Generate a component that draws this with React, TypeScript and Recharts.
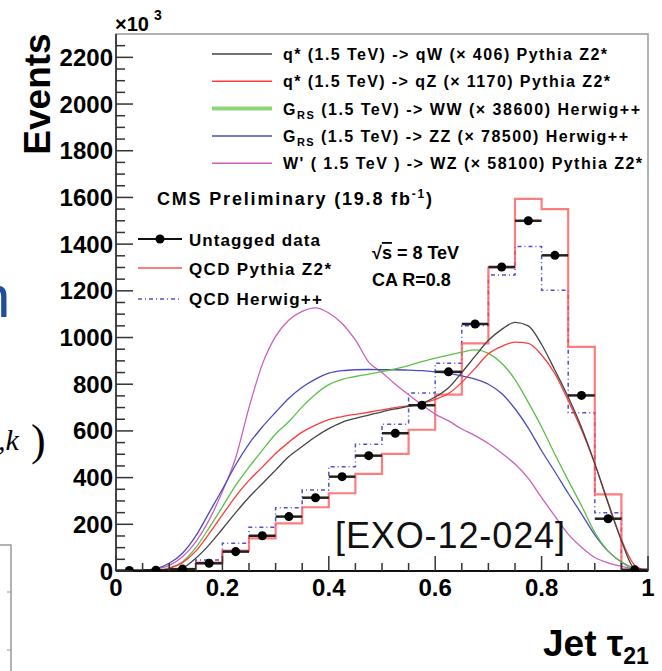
import React from "react";
import {
	ComposedChart,
	Line,
	Scatter,
	ErrorBar,
	XAxis,
	YAxis,
	ReferenceArea,
} from "recharts";

const FONT = '"Liberation Sans", Arial, Helvetica, sans-serif';

// histogram bins of jet tau21 (width 0.05)
const binEdges = [0, 0.05, 0.1, 0.15, 0.2, 0.25, 0.3, 0.35, 0.4, 0.45, 0.5, 0.55, 0.6, 0.65, 0.7, 0.75, 0.8, 0.85, 0.9, 0.95, 1];
const binCenters = [0.025, 0.075, 0.125, 0.175, 0.225, 0.275, 0.325, 0.375, 0.425, 0.475, 0.525, 0.575, 0.625, 0.675, 0.725, 0.775, 0.825, 0.875, 0.925, 0.975];

// events, x10^3
const untaggedData = [2, 3, 8, 33, 83, 151, 233, 314, 404, 494, 590, 710, 853, 1058, 1302, 1500, 1352, 752, 224, 5];
const qcdPythia = [0, 2, 8, 36, 87, 140, 204, 273, 333, 416, 502, 605, 755, 975, 1300, 1594, 1550, 960, 328, 5];
const qcdHerwig = [0, 3, 10, 47, 119, 187, 271, 347, 447, 543, 629, 762, 890, 1050, 1268, 1390, 1202, 678, 250, 3];

// signal shapes (scaled), sampled every 0.025
const curveX = [0, 0.025, 0.05, 0.075, 0.1, 0.125, 0.15, 0.175, 0.2, 0.225, 0.25, 0.275, 0.3, 0.325, 0.35, 0.375, 0.4, 0.425, 0.45, 0.475, 0.5, 0.525, 0.55, 0.575, 0.6, 0.625, 0.65, 0.675, 0.7, 0.725, 0.75, 0.775, 0.8, 0.825, 0.85, 0.875, 0.9, 0.925, 0.95, 0.975, 1];
const qstarQW = [0, 0, 0, 1, 5, 14, 55, 112, 180, 250, 316, 374, 432, 490, 533, 575, 610, 637, 654, 668, 682, 694, 705, 718, 745, 785, 850, 920, 988, 1035, 1065, 1050, 970, 860, 745, 615, 460, 290, 130, 10, 0];
const qstarQZ = [0, 0, 1, 2, 11, 36, 85, 160, 240, 320, 388, 445, 503, 552, 595, 625, 648, 661, 671, 680, 690, 700, 708, 718, 735, 760, 808, 868, 930, 962, 980, 975, 925, 845, 730, 605, 460, 295, 135, 25, 0];
const grsWW = [0, 0, 1, 3, 13, 40, 100, 185, 275, 367, 445, 517, 587, 640, 703, 757, 798, 821, 833, 843, 854, 866, 880, 897, 912, 925, 937, 947, 932, 890, 820, 722, 617, 500, 388, 280, 165, 85, 38, 10, 0];
const grsZZ = [0, 0, 3, 10, 33, 76, 150, 250, 350, 455, 545, 617, 680, 740, 787, 822, 847, 858, 862, 863, 862, 862, 860, 858, 853, 846, 836, 822, 800, 760, 695, 612, 515, 425, 333, 245, 155, 85, 38, 10, 0];
const wprimeWZ = [0, 0, 1, 8, 24, 61, 125, 218, 340, 485, 700, 885, 1005, 1075, 1112, 1127, 1105, 1060, 990, 895, 850, 800, 755, 712, 672, 643, 608, 580, 546, 505, 458, 397, 314, 235, 158, 102, 58, 35, 20, 8, 0];

const yTicks = [0, 50, 100, 150, 200, 250, 300, 350, 400, 450, 500, 550, 600, 650, 700, 750, 800, 850, 900, 950, 1000, 1050, 1100, 1150, 1200, 1250, 1300, 1350, 1400, 1450, 1500, 1550, 1600, 1650, 1700, 1750, 1800, 1850, 1900, 1950, 2000, 2050, 2100, 2150, 2200, 2250];
const xTicks = binEdges;

const signalLegend = [
	{ head: "q* (1.5 TeV) -> qW (\u00d7 406) Pythia Z2*", sub: "", tail: "", color: "#444444", w: 1.5, len: 324 },
	{ head: "q* (1.5 TeV) -> qZ (\u00d7 1170) Pythia Z2*", sub: "", tail: "", color: "#ff3b3b", w: 1.5, len: 327 },
	{ head: "G", sub: "RS", tail: " (1.5 TeV) -> WW (\u00d7 38600) Herwig++", color: "#8fd67a", w: 4, len: 357 },
	{ head: "G", sub: "RS", tail: " (1.5 TeV) -> ZZ (\u00d7 78500) Herwig++", color: "#4b4bbb", w: 1.5, len: 345 },
	{ head: "W' ( 1.5 TeV ) -> WZ (\u00d7 58100) Pythia Z2*", sub: "", tail: "", color: "#cc5fc0", w: 1.5, len: 359 },
];

const histRows = (vals: number[]) =>
	binEdges.map((x, i) => ({ x, v: vals[Math.min(i, vals.length - 1)] }));
const pythiaRows = histRows(qcdPythia);
const herwigRows = histRows(qcdHerwig);
const pointRows = binCenters.map((x, i) => ({ x, y: untaggedData[i], ex: 0.025 }));
const curveRows = curveX.map((x, i) => ({
	x,
	qW: qstarQW[i],
	qZ: qstarQZ[i],
	ww: grsWW[i],
	zz: grsZZ[i],
	wz: wprimeWZ[i],
}));

const YTick = (props: any) => {
	const { x, y, payload } = props;
	const v = payload.value;
	const major = v % 200 === 0;
	return (
		<g>
			<line x1={x} x2={x + (major ? 17 : 9)} y1={y} y2={y} stroke="#333" strokeWidth={1.5} />
			{major ? (
				<text x={x - 3} y={y + 8.5} textAnchor="end" fontSize={24} fontWeight="bold" fontFamily={FONT} fill="#000">
					{v}
				</text>
			) : null}
		</g>
	);
};

const XTick = (props: any) => {
	const { x, y, payload } = props;
	const v = payload.value;
	const major = Math.round(v * 100) % 20 === 0;
	const label = v === 0 ? "0" : v === 1 ? "1" : v.toFixed(1);
	return (
		<g>
			<line x1={x} x2={x} y1={y} y2={y - (major ? 15 : 8)} stroke="#333" strokeWidth={1.5} />
			{major ? (
				<text x={x} y={y + 25} textAnchor="middle" fontSize={24} fontWeight="bold" fontFamily={FONT} fill="#000">
					{label}
				</text>
			) : null}
		</g>
	);
};

const Overlay = () => (
	<svg width={662} height={671} style={{ position: "absolute", left: 0, top: 0, pointerEvents: "none" }}>
		{/* axis titles */}
		<text x={115} y={31} fontSize={20} fontWeight="bold" fontFamily={FONT}>
			{"\u00d710"}
		</text>
		<text x={154} y={20} fontSize={14} fontWeight="bold" fontFamily={FONT}>
			3
		</text>
		<text transform="translate(50,94) rotate(-90)" textAnchor="middle" fontSize={37} fontWeight="bold" fontFamily={FONT}>
			Events
		</text>
		<text x={543} y={656} fontSize={37} fontWeight="bold" fontFamily={FONT}>
			{"Jet \u03c4"}
			<tspan fontSize={23} dy={8}>
				21
			</tspan>
		</text>

		{/* signal legend */}
		{signalLegend.map((e, i) => {
			const cy = 54 + i * 27.3;
			return (
				<g key={i}>
					<line x1={212} x2={272} y1={cy} y2={cy} stroke={e.color} strokeWidth={e.w} />
					<text x={283} y={cy + 6} fontSize={16} fontWeight="bold" fontFamily={FONT} textLength={e.len} lengthAdjust="spacing">
						{e.head}
						{e.sub ? (
							<tspan fontSize={11} dy={4}>
								{e.sub}
							</tspan>
						) : null}
						{e.sub ? <tspan dy={-4}>{e.tail}</tspan> : null}
					</text>
				</g>
			);
		})}

		<text x={157} y={205} fontSize={18} fontWeight="bold" fontFamily={FONT} textLength={275} lengthAdjust="spacing">
			CMS Preliminary (19.8 fb
			<tspan fontSize={12} dy={-7}>
				-1
			</tspan>
			<tspan dy={7}>)</tspan>
		</text>

		{/* QCD / data legend */}
		<line x1={138} x2={182} y1={239} y2={239} stroke="#111" strokeWidth={2} />
		<circle cx={160} cy={239} r={4.5} fill="#000" />
		<text x={189} y={246} fontSize={17} fontWeight="bold" fontFamily={FONT} textLength={131} lengthAdjust="spacing">
			Untagged data
		</text>
		<line x1={138} x2={182} y1={268} y2={268} stroke="#ff5050" strokeWidth={2} strokeOpacity={0.75} />
		<text x={189} y={275} fontSize={17} fontWeight="bold" fontFamily={FONT} textLength={142} lengthAdjust="spacing">
			QCD Pythia Z2*
		</text>
		<line x1={138} x2={182} y1={299} y2={299} stroke="#5050d0" strokeWidth={1.5} strokeDasharray="4 3 1 3" />
		<text x={189} y={305} fontSize={17} fontWeight="bold" fontFamily={FONT} textLength={133} lengthAdjust="spacing">
			QCD Herwig++
		</text>

		<text x={372} y={259} fontSize={18} fontWeight="bold" fontFamily={FONT}>
			{"\u221a"}
			<tspan style={{ textDecoration: "overline" }}>s</tspan>
			{" = 8 TeV"}
		</text>
		<text x={372} y={286} fontSize={18} fontWeight="bold" fontFamily={FONT}>
			CA R=0.8
		</text>

		<text x={335} y={548} fontSize={36} fontFamily={FONT} fill="#111" textLength={230} lengthAdjust="spacing">
			[EXO-12-024]
		</text>

		{/* bits of the slide around the plot */}
		<text x={-23} y={317} fontSize={60} fontFamily={FONT} fill="#1f4e9c">
			n
		</text>
		<text x={-2} y={450} fontSize={30} fontStyle="italic" fontFamily='"Liberation Serif", "DejaVu Serif", serif'>
			,k
		</text>
		<text x={31} y={455} fontSize={44} fontFamily='"Liberation Serif", "DejaVu Serif", serif'>
			)
		</text>
		<polyline points="0,545 11,545 11,671" fill="none" stroke="#999" strokeWidth={1.5} />
		<line x1={7} x2={11} y1={592} y2={592} stroke="#999" strokeWidth={1} />
		<line x1={7} x2={11} y1={650} y2={650} stroke="#999" strokeWidth={1} />
	</svg>
);

const App = () => {
	return (
		<div style={{ position: "absolute", left: 0, top: 0, width: 662, height: 671, background: "#fff", overflow: "hidden" }}>
			<ComposedChart
				width={662}
				height={671}
				data={curveRows}
				margin={{ top: 34, right: 14, bottom: 70, left: 56 }}
			>
				<ReferenceArea x1={0} x2={1} y1={0} y2={2300} fill="none" stroke="#999" strokeWidth={1.5} />
				<XAxis
					dataKey="x"
					type="number"
					domain={[0, 1]}
					ticks={xTicks}
					interval={0}
					tickSize={0}
					tickMargin={0}
					tickLine={false}
					tick={<XTick />}
					height={30}
					axisLine={{ stroke: "#111", strokeWidth: 2 }}
					allowDataOverflow
				/>
				<YAxis
					type="number"
					domain={[0, 2300]}
					ticks={yTicks}
					interval={0}
					tickSize={0}
					tickMargin={0}
					tickLine={false}
					tick={<YTick />}
					width={60}
					axisLine={{ stroke: "#444", strokeWidth: 2 }}
					allowDataOverflow
				/>
				<Line data={herwigRows} dataKey="v" type="stepAfter" stroke="#5050d0" strokeWidth={1.5} strokeDasharray="4 3 1 3" dot={false} isAnimationActive={false} />
				<Line data={pythiaRows} dataKey="v" type="stepAfter" stroke="#ff5050" strokeWidth={2.2} strokeOpacity={0.75} dot={false} isAnimationActive={false} />
				<Line dataKey="wz" type="monotone" stroke="#cc5fc0" strokeWidth={1.3} dot={false} isAnimationActive={false} />
				<Line dataKey="zz" type="monotone" stroke="#4b4bbb" strokeWidth={1.3} dot={false} isAnimationActive={false} />
				<Line dataKey="ww" type="monotone" stroke="#5cc048" strokeWidth={1.3} dot={false} isAnimationActive={false} />
				<Line dataKey="qZ" type="monotone" stroke="#ff3b3b" strokeWidth={1.3} dot={false} isAnimationActive={false} />
				<Line dataKey="qW" type="monotone" stroke="#444444" strokeWidth={1.3} dot={false} isAnimationActive={false} />
				<Scatter data={pointRows} dataKey="y" fill="#000" isAnimationActive={false}>
					<ErrorBar dataKey="ex" direction="x" width={0} stroke="#222" strokeWidth={2.5} />
				</Scatter>
			</ComposedChart>
			<Overlay />
		</div>
	);
};

export default App;
